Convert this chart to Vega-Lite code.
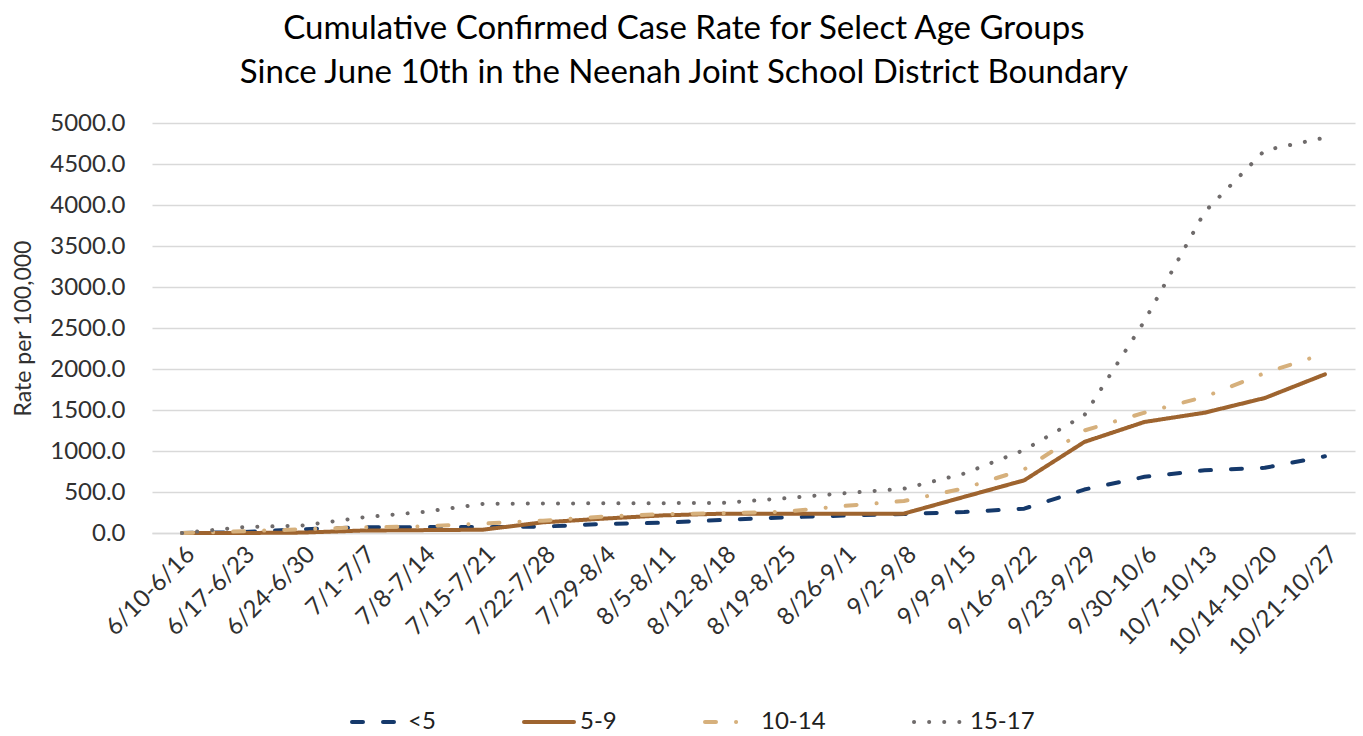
{
  "$schema": "https://vega.github.io/schema/vega-lite/v6.json",
  "width": 1203,
  "height": 410,
  "autosize": "none",
  "padding": {"left": 152, "top": 123, "right": 8, "bottom": 203},
  "background": "white",
  "title": {
    "text": ["Cumulative Confirmed Case Rate for Select Age Groups", "Since June 10th in the Neenah Joint School District Boundary"],
    "font": "Lato",
    "fontSize": 33,
    "fontWeight": "normal",
    "color": "#000000",
    "lineHeight": 44,
    "anchor": "middle",
    "frame": "bounds",
    "offset": 21
  },
  "config": {
    "view": {"stroke": null},
    "font": "Lato"
  },
  "data": {
    "values": [
      {"w": "6/10-6/16", "g": "<5", "v": 0},
      {"w": "6/17-6/23", "g": "<5", "v": 10},
      {"w": "6/24-6/30", "g": "<5", "v": 45},
      {"w": "7/1-7/7", "g": "<5", "v": 70},
      {"w": "7/8-7/14", "g": "<5", "v": 72},
      {"w": "7/15-7/21", "g": "<5", "v": 72},
      {"w": "7/22-7/28", "g": "<5", "v": 78},
      {"w": "7/29-8/4", "g": "<5", "v": 110},
      {"w": "8/5-8/11", "g": "<5", "v": 125},
      {"w": "8/12-8/18", "g": "<5", "v": 160},
      {"w": "8/19-8/25", "g": "<5", "v": 190},
      {"w": "8/26-9/1", "g": "<5", "v": 212},
      {"w": "9/2-9/8", "g": "<5", "v": 232},
      {"w": "9/9-9/15", "g": "<5", "v": 256},
      {"w": "9/16-9/22", "g": "<5", "v": 297},
      {"w": "9/23-9/29", "g": "<5", "v": 530},
      {"w": "9/30-10/6", "g": "<5", "v": 685},
      {"w": "10/7-10/13", "g": "<5", "v": 764},
      {"w": "10/14-10/20", "g": "<5", "v": 795},
      {"w": "10/21-10/27", "g": "<5", "v": 935},
      {"w": "6/10-6/16", "g": "5-9", "v": 0},
      {"w": "6/17-6/23", "g": "5-9", "v": 0},
      {"w": "6/24-6/30", "g": "5-9", "v": 5},
      {"w": "7/1-7/7", "g": "5-9", "v": 30},
      {"w": "7/8-7/14", "g": "5-9", "v": 35},
      {"w": "7/15-7/21", "g": "5-9", "v": 40},
      {"w": "7/22-7/28", "g": "5-9", "v": 130},
      {"w": "7/29-8/4", "g": "5-9", "v": 175},
      {"w": "8/5-8/11", "g": "5-9", "v": 215},
      {"w": "8/12-8/18", "g": "5-9", "v": 236},
      {"w": "8/19-8/25", "g": "5-9", "v": 236},
      {"w": "8/26-9/1", "g": "5-9", "v": 236},
      {"w": "9/2-9/8", "g": "5-9", "v": 236},
      {"w": "9/9-9/15", "g": "5-9", "v": 440},
      {"w": "9/16-9/22", "g": "5-9", "v": 642},
      {"w": "9/23-9/29", "g": "5-9", "v": 1110},
      {"w": "9/30-10/6", "g": "5-9", "v": 1354},
      {"w": "10/7-10/13", "g": "5-9", "v": 1467},
      {"w": "10/14-10/20", "g": "5-9", "v": 1646},
      {"w": "10/21-10/27", "g": "5-9", "v": 1935},
      {"w": "6/10-6/16", "g": "10-14", "v": 0},
      {"w": "6/17-6/23", "g": "10-14", "v": 20},
      {"w": "6/24-6/30", "g": "10-14", "v": 45},
      {"w": "7/1-7/7", "g": "10-14", "v": 70},
      {"w": "7/8-7/14", "g": "10-14", "v": 80},
      {"w": "7/15-7/21", "g": "10-14", "v": 115},
      {"w": "7/22-7/28", "g": "10-14", "v": 150},
      {"w": "7/29-8/4", "g": "10-14", "v": 200},
      {"w": "8/5-8/11", "g": "10-14", "v": 230},
      {"w": "8/12-8/18", "g": "10-14", "v": 240},
      {"w": "8/19-8/25", "g": "10-14", "v": 258},
      {"w": "8/26-9/1", "g": "10-14", "v": 330},
      {"w": "9/2-9/8", "g": "10-14", "v": 390},
      {"w": "9/9-9/15", "g": "10-14", "v": 545},
      {"w": "9/16-9/22", "g": "10-14", "v": 776},
      {"w": "9/23-9/29", "g": "10-14", "v": 1250},
      {"w": "9/30-10/6", "g": "10-14", "v": 1467},
      {"w": "10/7-10/13", "g": "10-14", "v": 1660},
      {"w": "10/14-10/20", "g": "10-14", "v": 1950},
      {"w": "10/21-10/27", "g": "10-14", "v": 2190},
      {"w": "6/10-6/16", "g": "15-17", "v": 0},
      {"w": "6/17-6/23", "g": "15-17", "v": 70},
      {"w": "6/24-6/30", "g": "15-17", "v": 92},
      {"w": "7/1-7/7", "g": "15-17", "v": 190},
      {"w": "7/8-7/14", "g": "15-17", "v": 256},
      {"w": "7/15-7/21", "g": "15-17", "v": 355},
      {"w": "7/22-7/28", "g": "15-17", "v": 360},
      {"w": "7/29-8/4", "g": "15-17", "v": 362},
      {"w": "8/5-8/11", "g": "15-17", "v": 364},
      {"w": "8/12-8/18", "g": "15-17", "v": 368},
      {"w": "8/19-8/25", "g": "15-17", "v": 423},
      {"w": "8/26-9/1", "g": "15-17", "v": 484},
      {"w": "9/2-9/8", "g": "15-17", "v": 540},
      {"w": "9/9-9/15", "g": "15-17", "v": 724},
      {"w": "9/16-9/22", "g": "15-17", "v": 1012},
      {"w": "9/23-9/29", "g": "15-17", "v": 1435},
      {"w": "9/30-10/6", "g": "15-17", "v": 2585},
      {"w": "10/7-10/13", "g": "15-17", "v": 3915},
      {"w": "10/14-10/20", "g": "15-17", "v": 4667},
      {"w": "10/21-10/27", "g": "15-17", "v": 4821}
    ]
  },
  "mark": {"type": "line", "strokeCap": "round", "strokeJoin": "round"},
  "encoding": {
    "x": {
      "field": "w",
      "type": "ordinal",
      "sort": null,
      "axis": {
        "title": null,
        "labelAngle": -45,
        "labelAlign": "right",
        "labelBaseline": "top",
        "labelFontSize": 24,
        "labelColor": "#303030",
        "labelPadding": 9,
        "ticks": false,
        "grid": false,
        "domain": true,
        "domainColor": "#d9d9d9",
        "domainWidth": 1.5
      }
    },
    "y": {
      "field": "v",
      "type": "quantitative",
      "scale": {"domain": [0, 5000], "nice": false},
      "axis": {
        "title": "Rate per 100,000",
        "titleFontSize": 23,
        "titleFontWeight": "normal",
        "titleColor": "#303030",
        "titlePadding": 14,
        "values": [0, 500, 1000, 1500, 2000, 2500, 3000, 3500, 4000, 4500, 5000],
        "format": ".1f",
        "labelFontSize": 24,
        "labelColor": "#303030",
        "labelPadding": 27,
        "ticks": false,
        "domain": false,
        "grid": true,
        "gridColor": "#d9d9d9",
        "gridWidth": 1.5
      }
    },
    "color": {
      "field": "g",
      "type": "nominal",
      "scale": {"domain": ["<5", "5-9", "10-14", "15-17"], "range": ["#15396b", "#9e642f", "#d6b07c", "#6f6b6b"]},
      "legend": {
        "title": null,
        "orient": "none",
        "direction": "horizontal",
        "legendX": 198,
        "legendY": 572,
        "symbolType": "stroke",
        "symbolSize": 2500,
        "labelFontSize": 24,
        "labelColor": "#202020",
        "labelOffset": 4,
        "columnPadding": 80,
        "encode": {"symbols": {"update": {"strokeCap": {"value": "round"}}}}
      }
    },
    "strokeDash": {
      "field": "g",
      "type": "nominal",
      "scale": {"domain": ["<5", "5-9", "10-14", "15-17"], "range": [[11, 20], [1, 0], [11, 20, 0.1, 20], [0.1, 15]]}
    },
    "strokeWidth": {
      "field": "g",
      "type": "nominal",
      "scale": {"domain": ["<5", "5-9", "10-14", "15-17"], "range": [4, 4, 3.5, 7]}
    }
  }
}
